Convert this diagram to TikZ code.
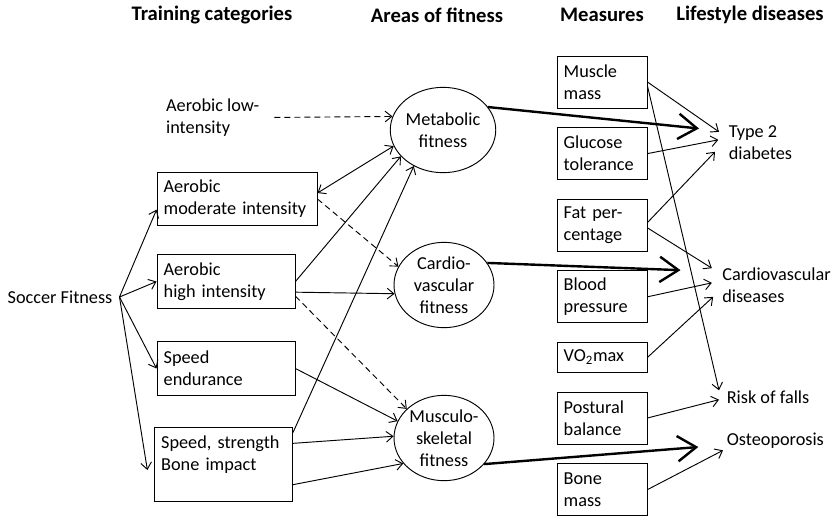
\documentclass[tikz,border=0pt]{standalone}
\usepackage{fontspec}
\setmainfont{Carlito}
\usetikzlibrary{arrows.meta, positioning, shapes.geometric}

\begin{document}
\begin{tikzpicture}[x=0.75pt, y=-0.75pt, ->, >={Straight Barb[length=5pt,width=8pt]}, line width=0.7pt, node distance=14pt, font=\fontsize{13.7}{16.5}\selectfont\frenchspacing]
        \tikzstyle{heading} = [font=\fontsize{15.5}{18}\selectfont\bfseries]
        \tikzstyle{plain} = [align=left, inner sep=5pt]
        \tikzstyle{category} = [draw, align=left, inner xsep=5pt, inner ysep=0pt, text width=93.5pt, minimum height=40pt]
        \tikzstyle{area} = [ellipse, draw, align=center, inner sep=0pt, minimum width=75pt, minimum height=64pt]
        \tikzstyle{measure} = [draw, align=left, inner xsep=5pt, inner ysep=0pt, text width=57.5pt, minimum height=39pt]
        \tikzstyle{disease} = [align=left, inner sep=4pt]
        \tikzstyle{weak} = [dash pattern=on 4.5pt off 3pt]
        \tikzstyle{strong} = [line width=1.8pt, -{Straight Barb[length=14pt,width=19pt]}]

        \useasboundingbox (0,0) rectangle (835,522);

        % column headings
        \node[heading] (trainhead) at (212,15) {Training categories};
        \node[heading] (areahead) at (437,15) {Areas of fitness};
        \node[heading] (meashead) at (602,15) {Measures};
        \node[heading] (dishead) at (750,15) {Lifestyle diseases};

        % training categories
        \node[plain] (soccer) at (60,297) {Soccer Fitness};
        \node[plain, anchor=west] (lowint) at (159,117.5) {Aerobic low-\\intensity};
        \node[category, text width=110pt] (moderate) at (237,199) {Aerobic\\moderate intensity};
        \node[category] (highint) at (226,281.5) {Aerobic\\high intensity};
        \node[category] (speedend) at (226,368.5) {Speed\\endurance};
        \node[category, minimum height=55.5pt] (strength) at (223.5,464) {Speed, strength\\Bone impact\\\mbox{}};

        % areas of fitness
        \node[area] (metabolic) at (443,130) {Metabolic\\fitness};
        \node[area] (cardio) at (444,285) {Cardio-\\vascular\\fitness};
        \node[area] (musculo) at (444,438) {Musculo-\\skeletal\\fitness};

        % measures
        \node[measure] (musclemass) at (602,82) {Muscle\\mass};
        \node[measure, below=of musclemass] (glucose) {Glucose\\tolerance};
        \node[measure, below=of glucose] (fatpct) {Fat per-\\centage};
        \node[measure, below=of fatpct] (bloodpr) {Blood\\pressure};
        \node[measure, below=of bloodpr, minimum height=22.5pt] (vomax) {VO\textsubscript{2}max};
        \node[measure, below=of vomax] (postural) {Postural\\balance};
        \node[measure, below=of postural] (bonemass) {Bone\\mass};

        % lifestyle diseases
        \node[disease, anchor=west] (diabetes) at (723,142.5) {Type 2\\diabetes};
        \node[disease, anchor=west] (cvd) at (716.5,285.5) {Cardiovascular\\diseases};
        \node[disease, anchor=west] (falls) at (721,397) {Risk of falls};
        \node[disease, anchor=west] (osteo) at (721,441) {Osteoporosis};

        \path (soccer.east) edge ([yshift=-8pt]moderate.west)
              (soccer.east) edge (highint.west)
              (soccer.east) edge (speedend.west)
              (soccer.east) edge ([xshift=-5pt,yshift=-4.5pt]strength.west);

        \path (lowint.east) edge[weak, shorten <=6pt] (metabolic.165)
              ([yshift=4.5pt]moderate.east) edge[<->] (metabolic.198)
              (moderate.east) edge[weak] (cardio.158)
              (highint.east) edge (metabolic.212)
              ([yshift=-8pt]highint.east) edge (cardio.190)
              ([yshift=-11pt]highint.east) edge[weak] (musculo.142)
              (speedend.east) edge (musculo.160)
              ([yshift=-4.5pt]strength.north east) edge (metabolic.231)
              ([yshift=15.5pt]strength.east) edge (musculo.178)
              ([yshift=-15.5pt]strength.east) edge (musculo.212);

        \path (metabolic.27) edge[strong] ([xshift=-18pt,yshift=10.5pt]diabetes.west)
              (cardio.27) edge[strong] ([xshift=-27pt,yshift=11.5pt]cvd.west)
              (musculo.327) edge[strong] ([xshift=-17pt,yshift=-4.5pt]osteo.west);

        \path (musclemass.east) edge ([xshift=-3pt,yshift=8pt]diabetes.west)
              (glucose.east) edge ([xshift=-3.5pt,yshift=2pt]diabetes.west)
              ([yshift=2pt]fatpct.east) edge ([xshift=-6pt,yshift=-7pt]diabetes.west)
              ([yshift=-2pt]fatpct.east) edge ([xshift=-3.5pt,yshift=13pt]cvd.west)
              ([yshift=-3pt]musclemass.east) edge ([xshift=-1.5pt,yshift=5pt]falls.west)
              (bloodpr.east) edge ([xshift=-3.5pt,yshift=2pt]cvd.west)
              (vomax.east) edge ([xshift=-2.5pt,yshift=-8.5pt]cvd.west)
              (postural.east) edge ([xshift=-1.5pt,yshift=-2pt]falls.west)
              (bonemass.east) edge ([xshift=1.5pt,yshift=-7pt]osteo.west);
\end{tikzpicture}
\end{document}
